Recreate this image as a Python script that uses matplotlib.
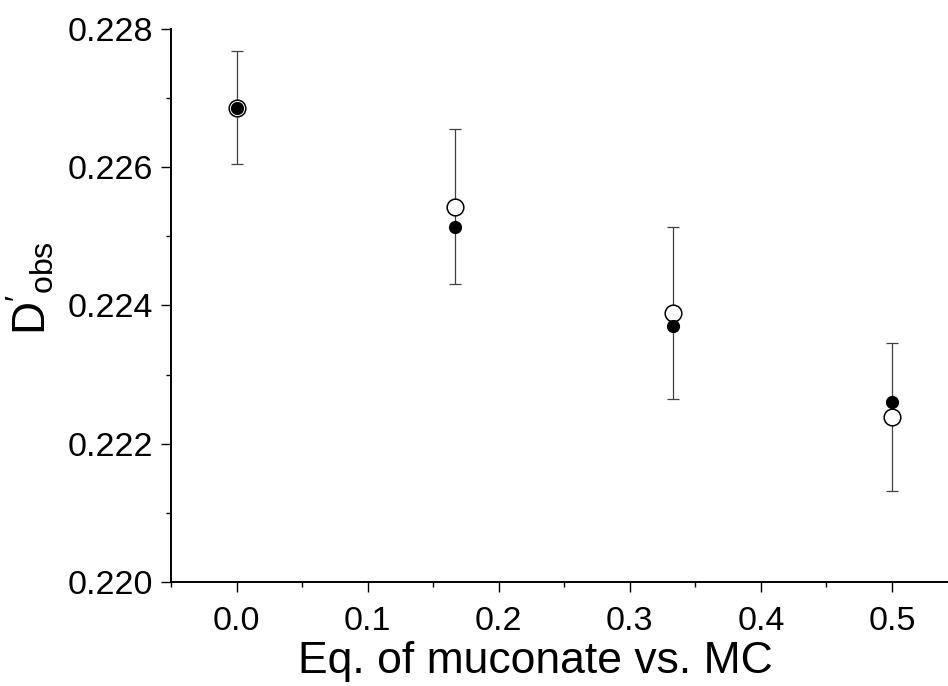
import matplotlib
matplotlib.use("Agg")
import matplotlib.pyplot as plt
from matplotlib.ticker import MultipleLocator, FormatStrFormatter

plt.rcParams['font.family'] = ['Liberation Sans', 'DejaVu Sans']
plt.rcParams['mathtext.fontset'] = 'custom'
plt.rcParams['mathtext.rm'] = 'Liberation Sans'
plt.rcParams['mathtext.it'] = 'Liberation Sans:italic'

# Data
eq_ratio = [0.0, 1/6, 1/3, 0.5]
d_obs_open = [0.22686, 0.22543, 0.22389, 0.22239]
d_obs_open_err = [0.00082, 0.00112, 0.00124, 0.00107]
d_obs_filled = [0.22686, 0.22514, 0.22371, 0.22261]

x_ticks = [0.0, 0.1, 0.2, 0.3, 0.4, 0.5]
y_ticks = [0.220, 0.222, 0.224, 0.226, 0.228]

fig = plt.figure(figsize=(9.48, 6.86), dpi=100)
ax = fig.add_axes([171/948, 1-582/686, 786.5/948, 553/686])

ax.errorbar(eq_ratio, d_obs_open, yerr=d_obs_open_err, fmt='none',
            ecolor='0.25', elinewidth=0.9, capsize=4, capthick=0.9, zorder=2)
ax.plot(eq_ratio, d_obs_open, 'o', ms=12, mfc='white', mec='black', mew=1.1,
        linestyle='none', zorder=3)
ax.plot(eq_ratio, d_obs_filled, 'o', ms=8.5, mfc='black', mec='black',
        linestyle='none', zorder=4)

ax.set_xlim(-0.05, 0.55)
ax.set_ylim(0.220, 0.228)
ax.set_xticks(x_ticks)
ax.set_yticks(y_ticks)
ax.xaxis.set_major_formatter(FormatStrFormatter('%.1f'))
ax.yaxis.set_major_formatter(FormatStrFormatter('%.3f'))
ax.xaxis.set_minor_locator(MultipleLocator(0.05))
ax.yaxis.set_minor_locator(MultipleLocator(0.001))

for s in ['top', 'right']:
    ax.spines[s].set_visible(False)
for s in ['left', 'bottom']:
    ax.spines[s].set_linewidth(1.4)

ax.tick_params(which='major', direction='out', length=7.2, width=1.0,
               labelsize=24.5)
ax.tick_params(axis='y', which='major', pad=6)
ax.tick_params(axis='x', which='major', pad=10)
ax.tick_params(which='minor', direction='out', length=3.6, width=1.0)

fig.text(535/948, 1-673/686, 'Eq. of muconate vs. MC', fontsize=32,
         ha='center', va='baseline')
fig.text(31/948, 1-288/686, r"$\mathrm{D}'_{\mathrm{obs}}$", fontsize=33,
         rotation=90, ha='center', va='center')

fig.savefig('out.png', dpi=100)
